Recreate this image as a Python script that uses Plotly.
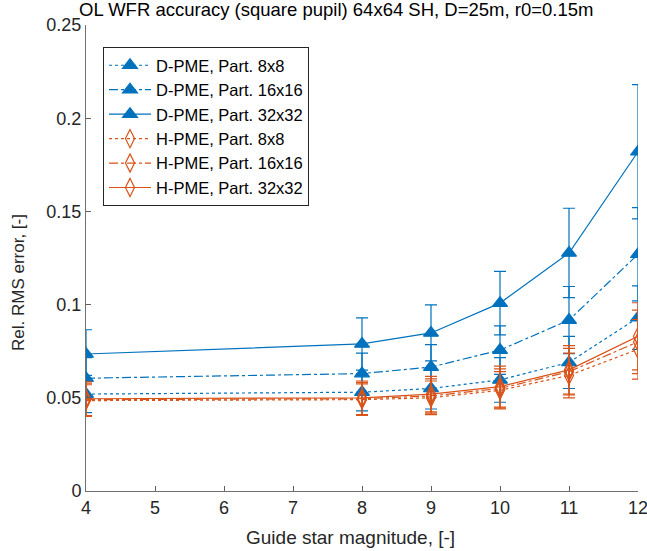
import plotly.graph_objects as go

# ---- data ----
mag = [4, 8, 9, 10, 11, 12]

d_8 = [0.0520, 0.0530, 0.0550, 0.0596, 0.0690, 0.0930]
d_8_err = [0.0100, 0.0100, 0.0110, 0.0120, 0.0140, 0.0170]
d_16 = [0.0605, 0.0630, 0.0665, 0.0756, 0.0917, 0.1270]
d_16_err = [0.0110, 0.0110, 0.0120, 0.0130, 0.0180, 0.0250]
d_32 = [0.0735, 0.0789, 0.0848, 0.1008, 0.1277, 0.1820]
d_32_err = [0.0130, 0.0140, 0.0150, 0.0170, 0.0240, 0.0360]

h_8 = [0.0485, 0.0490, 0.0500, 0.0540, 0.0620, 0.0760]
h_8_err = [0.0085, 0.0085, 0.0090, 0.0100, 0.0120, 0.0160]
h_16 = [0.0490, 0.0495, 0.0510, 0.0550, 0.0640, 0.0800]
h_16_err = [0.0088, 0.0088, 0.0092, 0.0105, 0.0125, 0.0170]
h_32 = [0.0495, 0.0500, 0.0520, 0.0560, 0.0650, 0.0830]
h_32_err = [0.0090, 0.0090, 0.0095, 0.0110, 0.0130, 0.0180]

names = ["D-PME, Part. 8x8", "D-PME, Part. 16x16", "D-PME, Part. 32x32",
         "H-PME, Part. 8x8", "H-PME, Part. 16x16", "H-PME, Part. 32x32"]

x_ticks = [4, 5, 6, 7, 8, 9, 10, 11, 12]
y_ticks = [0, 0.05, 0.1, 0.15, 0.2, 0.25]
y_ticktext = ["0", "0.05", "0.1", "0.15", "0.2", "0.25"]

BLUE = "#0072BD"
ORANGE = "#D95319"
FONT = "Liberation Sans, Arial, Helvetica, sans-serif"

W, H = 647, 551
L, R, T, B = 86, 9, 25, 60
PW, PH = W - L - R, H - T - B


def px(xp):
    return (xp - L) / PW


def py(yp):
    return (H - B - yp) / PH


series = [
    (d_8, d_8_err, BLUE, "dot", "triangle-up", 13),
    (d_16, d_16_err, BLUE, "dashdot", "triangle-up", 13),
    (d_32, d_32_err, BLUE, "solid", "triangle-up", 13),
    (h_8, h_8_err, ORANGE, "dot", "diamond-tall-open", 13),
    (h_16, h_16_err, ORANGE, "dashdot", "diamond-tall-open", 13),
    (h_32, h_32_err, ORANGE, "solid", "diamond-tall-open", 13),
]

fig = go.Figure()
for name, (y, e, c, dash, sym, ms) in zip(names, series):
    fig.add_trace(go.Scatter(
        x=mag, y=y, name=name, mode="lines+markers",
        line=dict(color=c, width=1.2, dash=dash),
        marker=dict(symbol=sym, size=ms, color=c, line=dict(color=c, width=1.2)),
        error_y=dict(type="data", array=e, visible=True, color=c, thickness=1.2, width=6),
    ))

fig.update_layout(
    width=W, height=H,
    margin=dict(l=L, r=R, t=T, b=B, autoexpand=False),
    plot_bgcolor="white", paper_bgcolor="white",
    font=dict(family=FONT, size=18, color="#262626"),
    showlegend=True,
    legend=dict(
        x=px(103), y=py(47), xref="paper", yref="paper",
        xanchor="left", yanchor="top",
        bgcolor="white", bordercolor="#262626", borderwidth=1,
        font=dict(family=FONT, size=16.5, color="#000000"),
        tracegroupgap=0, itemwidth=42,
    ),
    annotations=[
        dict(text="OL WFR accuracy (square pupil) 64x64 SH, D=25m, r0=0.15m",
             x=px(336), y=py(10), xref="paper", yref="paper",
             showarrow=False, xanchor="center", yanchor="middle",
             font=dict(family=FONT, size=18.5, color="#000000")),
        dict(text="Guide star magnitude, [-]",
             x=px(350), y=py(537), xref="paper", yref="paper",
             showarrow=False, xanchor="center", yanchor="middle",
             font=dict(family=FONT, size=19, color="#262626")),
        dict(text="Rel. RMS error, [-]", textangle=-90,
             x=px(18), y=py(283), xref="paper", yref="paper",
             showarrow=False, xanchor="center", yanchor="middle",
             font=dict(family=FONT, size=17, color="#262626")),
    ],
)

fig.update_xaxes(
    range=[4, 12], tickvals=x_ticks,
    ticks="inside", ticklen=5, tickcolor="#606060",
    showline=True, linecolor="#707070", linewidth=1,
    showgrid=False, zeroline=False, mirror=False,
    ticklabeloverflow="allow",
    tickfont=dict(size=18, color="#262626"),
)
fig.update_yaxes(
    range=[0, 0.25], tickvals=y_ticks, ticktext=y_ticktext,
    ticks="inside", ticklen=5, tickcolor="#606060",
    showline=True, linecolor="#707070", linewidth=1,
    showgrid=False, zeroline=False, mirror=False,
    ticklabeloverflow="allow",
    tickfont=dict(size=18, color="#262626"),
)

fig.write_html("out.html")
